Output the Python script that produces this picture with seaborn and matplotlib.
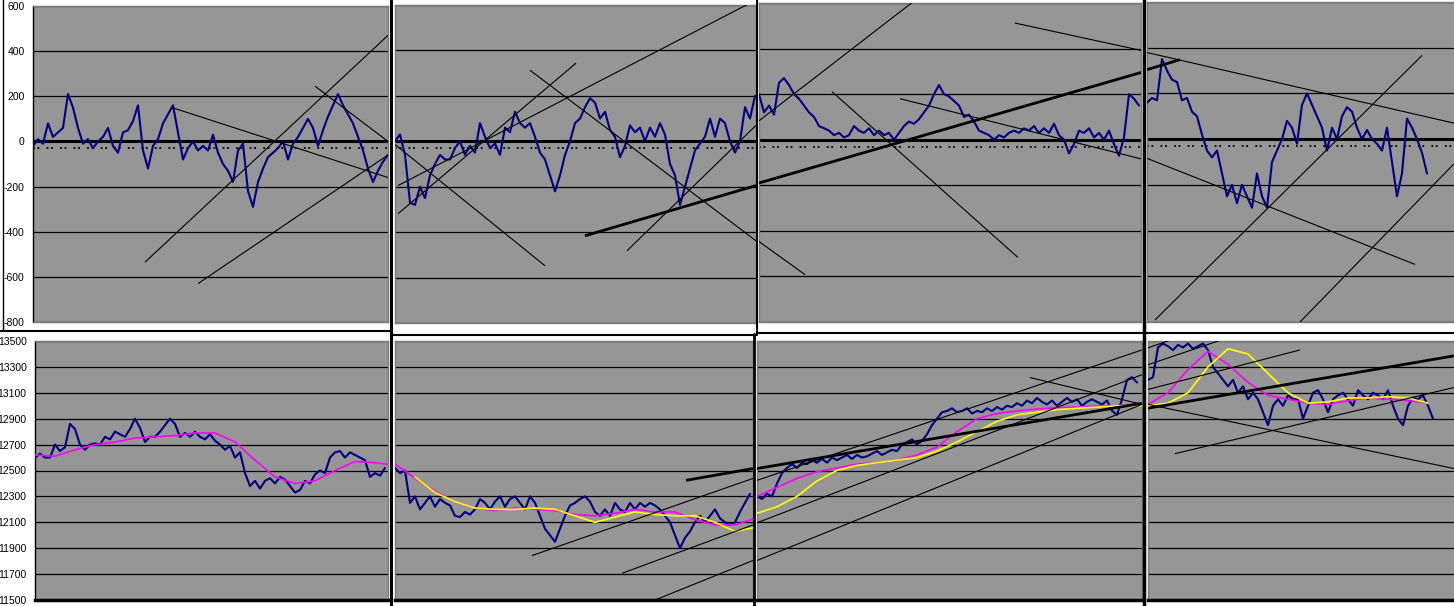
import numpy as np
import matplotlib
matplotlib.use("Agg")
import matplotlib.pyplot as plt
from matplotlib.lines import Line2D
import seaborn as sns

sns.set_style("white")
plt.rcParams['font.family'] = ['Liberation Sans', 'DejaVu Sans']
plt.rcParams['axes.unicode_minus'] = False

# ---- data ----
# oscillator (top row), one value every 5 time steps
osc_1 = [-20, 10, -10, 80, 20, 40, 60, 210, 150, 60,
         -10, 10, -30, 0, 20, 60, -20, -50, 40, 50,
         90, 160, -40, -120, -20, 10, 80, 120, 160, 40,
         -80, -30, 0, -40, -20, -40, 30, -50, -100, -130,
         -180, -40, -10, -220, -290, -180, -120, -70, -50, -30,
         0, -80, -10, 20, 60, 100, 60, -20, 50, 110,
         160, 210, 160, 120, 80, 20, -40, -120, -180, -130,
         -90, -60]
osc_2 = [0, 30, -60, -270, -280, -200, -250, -150, -100, -60,
         -80, -80, -30, 0, -60, -20, -50, 80, 20, -30,
         -10, -60, 60, 40, 130, 80, 60, 80, 20, -50,
         -80, -150, -220, -150, -60, 0, 80, 100, 150, 190,
         170, 100, 130, 50, 20, -70, -20, 70, 40, 60,
         0, 60, 20, 80, 30, -100, -150, -280, -200, -120,
         -40, -10, 20, 100, 20, 100, 80, 0, -50, 0,
         150, 100, 200]
osc_3 = [200, 120, 150, 110, 250, 270, 240, 200, 180, 150,
         120, 100, 60, 50, 40, 20, 30, 10, 20, 60,
         40, 30, 50, 20, 40, 20, 30, 0, 30, 60,
         80, 70, 90, 120, 150, 200, 240, 200, 190, 170,
         150, 100, 110, 80, 40, 30, 20, 0, 20, 10,
         30, 40, 30, 50, 40, 60, 30, 50, 30, 70,
         20, 0, -60, -20, 40, 30, 50, 10, 30, 0,
         40, -20, -70, 10, 200, 180, 150]
osc_4 = [160, 180, 170, 350, 300, 260, 250, 170, 180, 120,
         100, 20, -50, -80, -50, -150, -250, -200, -280, -200,
         -250, -300, -150, -250, -300, -100, -50, 0, 80, 50,
         -20, 150, 200, 150, 100, 50, -50, 50, 0, 100,
         140, 120, 50, 0, 40, 0, -20, -50, 50, -100,
         -250, -150, 90, 50, 0, -60, -150]
signal_level = -30

# price (bottom row), one value every 5 time steps
price_1 = [12600, 12630, 12600, 12600, 12700, 12650, 12680, 12860, 12820, 12700,
           12660, 12700, 12710, 12700, 12760, 12740, 12800, 12780, 12760, 12820,
           12900, 12830, 12720, 12760, 12760, 12800, 12850, 12900, 12860, 12760,
           12790, 12760, 12800, 12760, 12740, 12780, 12730, 12700, 12660, 12690,
           12600, 12640, 12480, 12380, 12420, 12360, 12420, 12440, 12400, 12450,
           12430, 12380, 12330, 12350, 12420, 12400, 12470, 12500, 12480, 12600,
           12640, 12650, 12600, 12640, 12620, 12600, 12580, 12450, 12480, 12460,
           12520]
price_2 = [12520, 12480, 12500, 12250, 12300, 12200, 12250, 12300, 12220, 12280,
           12250, 12230, 12150, 12140, 12180, 12160, 12200, 12280, 12250, 12200,
           12260, 12300, 12220, 12280, 12300, 12250, 12200, 12300, 12250, 12150,
           12050, 12000, 11950, 12050, 12150, 12230, 12250, 12280, 12300, 12260,
           12180, 12150, 12200, 12150, 12250, 12200, 12180, 12250, 12200, 12250,
           12220, 12250, 12230, 12200, 12150, 12100, 12000, 11900, 11980, 12030,
           12100, 12150, 12100, 12150, 12200, 12130, 12100, 12080, 12100, 12180,
           12250, 12320]
price_3 = [12300, 12280, 12320, 12300, 12400, 12480, 12520, 12550, 12520, 12560,
           12550, 12580, 12560, 12590, 12560, 12600, 12580, 12600, 12620, 12590,
           12620, 12600, 12610, 12630, 12650, 12620, 12640, 12660, 12650, 12700,
           12720, 12740, 12700, 12730, 12780, 12850, 12900, 12950, 12960, 12980,
           12950, 12960, 12980, 12940, 12960, 12950, 12980, 12960, 12990, 12970,
           13000, 12990, 13020, 13000, 13040, 13020, 13060, 13030, 13010, 13040,
           13000, 13030, 13060, 13030, 13050, 13000, 13030, 13050, 13030, 13010,
           13040, 12960, 12930, 13050, 13200, 13220, 13180]
price_4 = [13200, 13220, 13450, 13480, 13460, 13430, 13470, 13450, 13480, 13440,
           13460, 13480, 13430, 13300, 13250, 13200, 13150, 13200, 13100, 13150,
           13050, 13100, 13050, 12950, 12850, 13000, 13050, 13000, 13080, 13050,
           13050, 12900, 13000, 13100, 13120, 13050, 12950, 13050, 13080, 13100,
           13050, 13000, 13120, 13080, 13050, 13100, 13080, 13050, 13120, 13000,
           12900, 12850, 13000, 13060, 13050, 13080, 13000, 12900]

# moving averages, one value every 20 time steps
pink_1 = [12620, 12610, 12660, 12700, 12720, 12750, 12760, 12770, 12790, 12790,
          12720, 12580, 12450, 12400, 12420, 12500, 12570, 12560, 12540]
pink_2 = [12550, 12440, 12340, 12260, 12210, 12190, 12210, 12200, 12190, 12160,
          12150, 12170, 12200, 12180, 12180, 12120, 12080, 12080, 12130]
pink_3 = [12300, 12370, 12440, 12490, 12520, 12550, 12560, 12580, 12620, 12680,
          12800, 12900, 12940, 12960, 12975, 12985, 12990, 13000, 13000, 13010, 13020]
pink_4 = [13010, 13100, 13280, 13420, 13320, 13180, 13080, 13050, 13020, 13010,
          13040, 13060, 13050, 13040, 13020]
yellow_2 = [np.nan, 12450, 12330, 12260, 12210, 12200, 12200, 12210, 12200, 12150,
            12100, 12140, 12180, 12160, 12150, 12150, 12100, 12030, 12060]
yellow_3 = [12170, 12220, 12300, 12420, 12500, 12540, 12560, 12580, 12600, 12650,
            12720, 12800, 12880, 12930, 12950, 12970, 12980, 12990, 13000, 13000, 13000]
yellow_4 = [13000, 13020, 13100, 13300, 13440, 13400, 13250, 13100, 13020, 13030,
            13060, 13060, 13070, 13060, 13020]

# hand drawn trend lines: (t0, v0, t1, v1)
top_lines = [
    [(112, -535, 355, 470), (139, 150, 355, -160), (165, -630, 355, -60), (282, 245, 355, 0)],
    [(3, -319, 181, 344), (3, -195, 361, 622), (0, -14, 150, -548),
     (135, 313, 361, -438), (232, -482, 361, 70)],
    [(0, 83, 159, 622), (0, -447, 46, -592), (73, 211, 259, -517),
     (256, 512, 382, 392), (141, 180, 382, -84)],
    [(0, 379, 307, 70), (0, -84, 268, -548), (8, -791, 275, 366), (153, -800, 307, -108)],
]
top_thick = [[], [(190, -416, 361, -195)], [(0, -190, 382, 295)], [(0, 304, 33, 348)]]
bot_lines = [
    [],
    [(137, 11843, 358, 12439), (227, 11706, 358, 12080), (260, 11500, 358, 11805)],
    [(0, 12424, 385, 13431), (0, 12096, 385, 13240), (0, 11805, 385, 13011),
     (273, 13218, 385, 13011)],
    [(0, 13447, 42, 13560), (0, 13317, 117, 13622), (0, 13126, 152, 13431),
     (27, 12630, 306, 13141), (0, 13011, 306, 12515)],
]
bot_thick = [[], [(291, 12424, 358, 12515)], [(0, 12515, 385, 13019)], [(0, 12981, 306, 13385)]]

top_ticks = [-800, -600, -400, -200, 0, 200, 400, 600]
bot_ticks = [11500, 11700, 11900, 12100, 12300, 12500, 12700, 12900, 13100, 13300, 13500]

osc = [osc_1, osc_2, osc_3, osc_4]
prices = [price_1, price_2, price_3, price_4]
pinks = [pink_1, pink_2, pink_3, pink_4]
yellows = [None, yellow_2, yellow_3, yellow_4]

# ---- layout (pixels of the screenshot collage) ----
W, H = 1454, 606
top_boxes = [(33, 6, 388, 322), (395, 5, 756, 323), (759, 3, 1141, 322), (1147, 2, 1454, 322)]
bot_boxes = [(35, 341, 388, 600), (395, 341, 753, 600), (757, 341, 1142, 600), (1148, 341, 1454, 600)]
GRAY = '#969696'
NAVY = '#000080'


def rect(l, t, r, b):
    return [l / W, 1 - b / H, (r - l) / W, (b - t) / H]


def style_panel(ax, ticks, labels):
    ax.set_facecolor(GRAY)
    ax.set_yticks(ticks)
    ax.set_ylim(ticks[0], ticks[-1])
    ax.set_xticks([])
    ax.set_xlabel('')
    ax.set_ylabel('')
    ax.grid(axis='y', color='black', linewidth=0.9)
    ax.set_axisbelow(True)
    for s in ax.spines.values():
        s.set_visible(True)
        s.set_color('#7a7a7a')
        s.set_linewidth(1)
    if labels:
        ax.set_yticklabels([str(t) for t in ticks])
        ax.tick_params(axis='y', direction='out', length=4, width=1, color='black',
                       labelsize=7.5, pad=2, labelcolor='black')
        ax.spines['left'].set_color('black')
    else:
        ax.tick_params(axis='y', length=0, labelleft=False)


def series(ax, vals, step, color, lw, z=3):
    x = np.arange(len(vals)) * step
    sns.lineplot(x=x, y=np.array(vals, dtype=float), ax=ax, color=color,
                 linewidth=lw, zorder=z)


def trend(ax, lines, lw):
    for t0, v0, t1, v1 in lines:
        ax.plot([t0, t1], [v0, v1], color='black', linewidth=lw, zorder=5,
                solid_capstyle='butt')


fig = plt.figure(figsize=(W / 100, H / 100), dpi=100)
fig.patch.set_facecolor('white')

for i in range(4):
    l, t, r, b = top_boxes[i]
    ax = fig.add_axes(rect(l, t, r, b))
    series(ax, osc[i], 5, NAVY, 1.5)
    ax.axhline(0, color='black', linewidth=2.2, zorder=2)
    ax.axhline(signal_level, color='black', linewidth=1.3, linestyle=(0, (1, 1.5, 1, 4)), zorder=2)
    trend(ax, top_lines[i], 0.8)
    trend(ax, top_thick[i], 2.0)
    ax.set_xlim(0, r - l)
    style_panel(ax, top_ticks, i == 0)
    if i == 3:
        ax.spines['right'].set_visible(False)

for i in range(4):
    l, t, r, b = bot_boxes[i]
    ax = fig.add_axes(rect(l, t, r, b))
    series(ax, prices[i], 5, NAVY, 1.5)
    series(ax, pinks[i], 20, '#ff00ff', 1.2, z=4)
    if yellows[i] is not None:
        series(ax, yellows[i], 20, '#ffff00', 1.2, z=4)
    trend(ax, bot_lines[i], 0.8)
    trend(ax, bot_thick[i], 2.0)
    ax.set_xlim(0, r - l)
    style_panel(ax, bot_ticks, i == 0)
    ax.spines['bottom'].set_color('black')
    ax.spines['bottom'].set_linewidth(2.5)
    if i == 3:
        ax.spines['right'].set_visible(False)


def sep(x0, y0, x1, y1, lw):
    fig.add_artist(Line2D([x0 / W, x1 / W], [1 - y0 / H, 1 - y1 / H],
                          transform=fig.transFigure, color='black', linewidth=lw))


# window borders between the pasted screenshots
sep(390.5, 0, 390.5, 606, 2.2)
sep(757, 0, 757, 334, 1.5)
sep(754, 334, 754, 606, 2)
sep(1144, 0, 1144, 606, 2.5)
sep(0, 331, 390, 331, 1.5)
sep(391, 335, 757, 335, 1.5)
sep(757, 333, 1454, 333, 1.5)
sep(3, 0, 3, 329, 1)

fig.savefig('out.png', dpi=100)
